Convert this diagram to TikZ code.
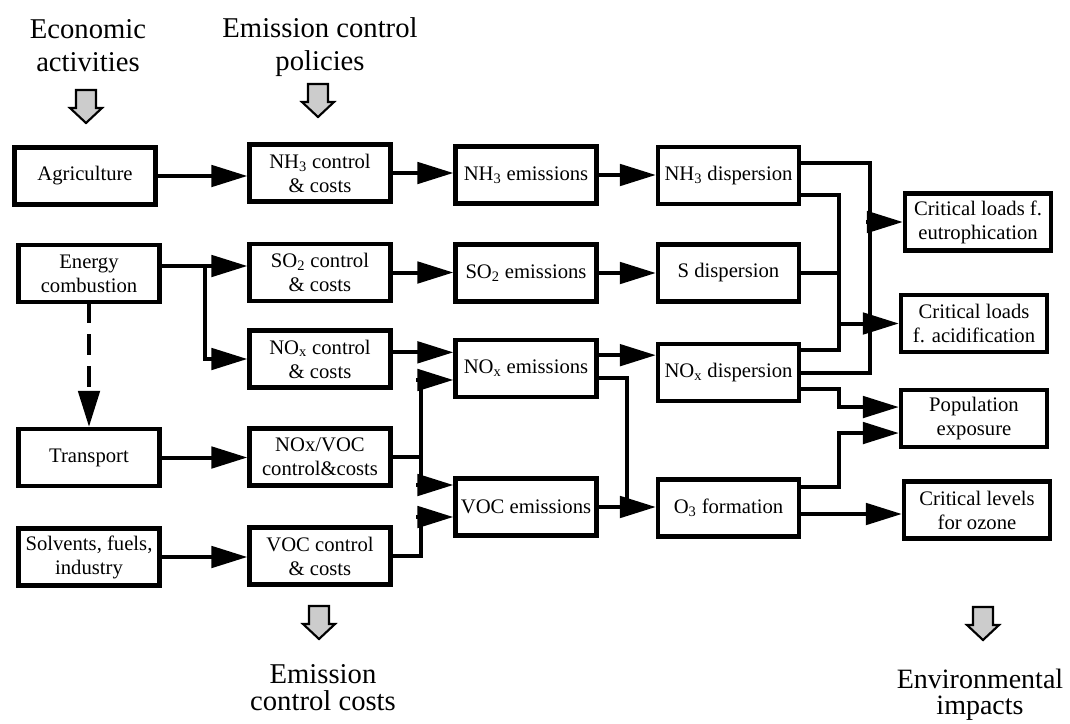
\documentclass[tikz,border=0pt]{standalone}
\usepackage{fontspec}
\setmainfont{Liberation Serif}
\usetikzlibrary{arrows.meta}
\begin{document}
\begin{tikzpicture}[x=0.75pt,y=-0.75pt,
  box/.style={draw, line width=3.2pt, inner sep=0pt, align=center,
    minimum width=105.75pt, minimum height=42.75pt,
    font=\fontsize{15.5}{18}\selectfont},
  wbox/.style={box, minimum width=109.5pt},
  conn/.style={line width=3pt, line cap=rect},
  arr/.style={conn, -{Triangle[length=27pt,width=16pt]}},
  tophead/.style={align=center, inner sep=0pt, anchor=north,
    font=\fontsize{21.5}{25}\selectfont},
  bothead/.style={align=center, inner sep=0pt, anchor=north,
    font=\fontsize{21.5}{20.5}\selectfont},
  barrow/.pic={\draw[line width=1.6pt, fill=gray!40, line join=miter]
    (-10,0) -- (10,0) -- (10,18) -- (16,18) -- (0,33) -- (-16,18) -- (-10,18) -- cycle;}
]
\useasboundingbox (0,0) rectangle (1070,724);

% headings
\node[tophead] (econ) at (88,19) {Economic\\activities};
\node[tophead] (pol) at (320,17) {Emission control\\policies};
\node[bothead] (cost) at (323,664) {Emission\\control costs};
\node[bothead, font=\fontsize{21}{19.5}\selectfont] (env) at (980,669) {Environmental\\impacts};

\pic at (86,90) {barrow};
\pic at (318,84) {barrow};
\pic at (319,606) {barrow};
\pic at (983,607) {barrow};

% boxes
\node[box] (agr) at (85,176) {Agriculture};
\node[box] (energy) at (89,273.5) {Energy\\combustion};
\node[box] (transport) at (89,457.5) {Transport};
\node[box] (solv) at (89,557) {Solvents, fuels,\\industry};
\node[box] (nh3c) at (320,173) {NH\textsubscript{3} control\\\& costs};
\node[box] (so2c) at (320,272.5) {SO\textsubscript{2} control\\\& costs};
\node[box] (noxc) at (320,359) {NO\textsubscript{x} control\\\& costs};
\node[box] (noxvoc) at (320,457) {NOx/VOC\\control\&costs};
\node[box] (vocc) at (320,556) {VOC control\\\& costs};
\node[box] (nh3e) at (526,175) {NH\textsubscript{3} emissions};
\node[box] (so2e) at (526,273) {SO\textsubscript{2} emissions};
\node[box] (noxe) at (526,368.5) {NO\textsubscript{x} emissions};
\node[box] (voce) at (526,507) {VOC emissions};
\node[box] (nh3d) at (728.5,175.5) {NH\textsubscript{3} dispersion};
\node[box] (sd) at (728.5,273) {S dispersion};
\node[box] (noxd) at (728.5,372.5) {NO\textsubscript{x} dispersion};
\node[box] (o3) at (728.5,508) {O\textsubscript{3} formation};
\node[wbox] (eut) at (978,222) {Critical loads f.\\eutrophication};
\node[wbox] (acid) at (974,323.5) {Critical loads\\f. acidification};
\node[wbox] (pop) at (974,418.5) {Population\\exposure};
\node[wbox] (ozone) at (977,510) {Critical levels\\for ozone};

% junction coordinates
\coordinate (ej) at (205,266);
\coordinate (vj) at (421,457);
\coordinate (vj2) at (421,556);
\coordinate (oj) at (627,508);
\coordinate (xa) at (870,0);
\coordinate (xb) at (839,0);

% connectors
\draw[arr] (agr.east) -- (agr.east -| nh3c.west);
\draw[arr] (nh3c.east) -- (nh3c.east -| nh3e.west);
\draw[arr] (nh3e.east) -- (nh3e.east -| nh3d.west);

\draw[arr] (energy.east |- ej) -- (ej) -- (ej -| so2c.west);
\draw[arr] (ej) |- (noxc.west);
\draw[arr, dash pattern=on 12.75pt off 11.25pt] (energy.south) -- (transport.north);

\draw[arr] (so2c.east) -- (so2c.east -| so2e.west);
\draw[arr] (so2e.east) -- (so2e.east -| sd.west);

\draw[arr] ([yshift=5pt]noxc.east) -- ([yshift=5pt]noxc.east -| noxe.west);
\draw[conn] (noxvoc.east) -- (vj);
\draw[arr] (vj) |- ([yshift=-8.6pt]noxe.west);
\draw[arr] (vj) |- ([yshift=16.5pt]voce.west);
\draw[arr] (vocc.east) -- (vj2) |- ([yshift=-7.5pt]voce.west);

\draw[arr] (transport.east) -- (transport.east -| noxvoc.west);
\draw[arr] (solv.east) -- (solv.east -| vocc.west);

\draw[arr] ([yshift=10pt]noxe.east) -- ([yshift=10pt]noxe.east -| noxd.west);
\draw[conn] ([yshift=-7pt]noxe.east) -| (oj);
\draw[arr] (voce.east) -- (voce.east -| o3.west);

\draw[conn] ([yshift=9.4pt]nh3d.east) -| (noxd.east -| xa) -- (noxd.east);
\draw[conn] ([yshift=-14.6pt]nh3d.east) -| ([yshift=16.9pt]noxd.east -| xb) -- ([yshift=16.9pt]noxd.east);
\draw[conn] (sd.east) -- (sd.east -| xb);
\draw[arr] (eut.west -| xa) -- (eut.west);
\draw[arr] (acid.west -| xb) -- (acid.west);

\draw[arr] ([yshift=-12.4pt]noxd.east) -| ([yshift=8.6pt]pop.west -| xb) -- ([yshift=8.6pt]pop.west);
\draw[arr] ([yshift=15.75pt]o3.east) -| ([yshift=-10.9pt]pop.west -| xb) -- ([yshift=-10.9pt]pop.west);
\draw[arr] ([yshift=-4.5pt]o3.east) -- ([yshift=-4.5pt]o3.east -| ozone.west);
\end{tikzpicture}
\end{document}
